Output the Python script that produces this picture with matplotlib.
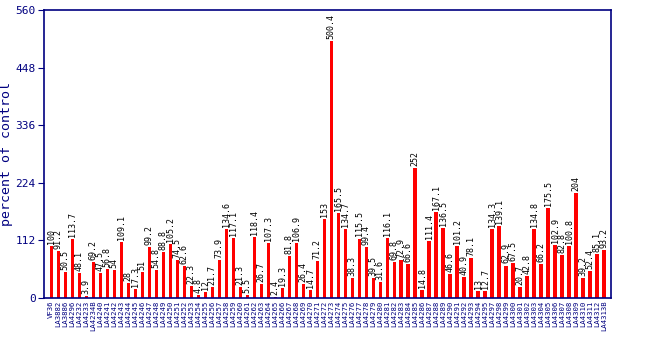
import matplotlib
matplotlib.use("Agg")
import matplotlib.pyplot as plt
import numpy as np

# values, left to right
values = [
    100, 91.2, 50.5, 113.7, 48.1, 3.9, 69.2, 47.5, 56.8, 54,
    109.1, 28, 17.3, 51, 99.2, 54.8, 88.8, 105.2, 74.5, 62.6,
    22.3, 4.8, 12, 21.7, 73.9, 134.6, 117.1, 21.3, 5.5, 118.4,
    26.7, 107.3, 2.4, 19.3, 81.8, 106.9, 26.4, 14.7, 71.2, 153,
    500.4, 165.5, 134.7, 38.3, 115.5, 99.4, 39.5, 31.6, 116.1, 69.8,
    72.9, 66.6, 252, 14.8, 111.4, 167.1, 136.5, 46.6, 101.2, 40.9,
    78.1, 13, 12.7, 134.3, 139.1, 62.9, 67.5, 20.7, 42.8, 134.8,
    66.2, 175.5, 102.9, 82.8, 100.8, 204, 39.2, 52.4, 85.1, 93.2,
]

# sample names (small rotated text, best guess)
labels = [
    "VF36", "LA3882", "LA3886", "LA4296", "LA4232", "LA4233", "LA4234B", "LA4240", "LA4241", "LA4242",
    "LA4243", "LA4244", "LA4245", "LA4246", "LA4247", "LA4248", "LA4249", "LA4250", "LA4251", "LA4252",
    "LA4253", "LA4254", "LA4255", "LA4256", "LA4257", "LA4258", "LA4259", "LA4260", "LA4261", "LA4262",
    "LA4263", "LA4264", "LA4265", "LA4266", "LA4267", "LA4268", "LA4269", "LA4270", "LA4271", "LA4272",
    "LA4273", "LA4274", "LA4275", "LA4276", "LA4277", "LA4278", "LA4279", "LA4280", "LA4281", "LA4282",
    "LA4283", "LA4284", "LA4285", "LA4286", "LA4287", "LA4288", "LA4289", "LA4290", "LA4291", "LA4292",
    "LA4293", "LA4294", "LA4295", "LA4297", "LA4298", "LA4299", "LA4300", "LA4301", "LA4302", "LA4303",
    "LA4304", "LA4305", "LA4306", "LA4307", "LA4308", "LA4309", "LA4310", "LA4311", "LA4312", "LA4313B",
]

yticks = [0, 112, 224, 336, 448, 560]
navy = "#000080"
mono = "DejaVu Sans Mono"

fig = plt.figure(figsize=(6.5, 3.5), dpi=100)
ax = fig.add_axes([0.068, 0.149, 0.872, 0.822])

x = np.arange(len(values))
ax.bar(x, values, width=0.45, color="#ff0000", zorder=2)

for xi, v in zip(x, values):
    ax.text(xi, v + 4, f"{v:g}", rotation=90, ha="center", va="bottom",
            fontsize=6, family=mono, color="black")

ax.set_xlim(-1, 80)
ax.set_ylim(0, 560)
ax.set_yticks(yticks)
ax.set_yticklabels([str(t) for t in yticks], family=mono, fontsize=8, color=navy)
ax.set_xticks(x)
ax.set_xticklabels(labels, rotation=90, family=mono, fontsize=5.2, color=navy)
ax.tick_params(axis="x", length=0, pad=2)
ax.tick_params(axis="y", color=navy, length=4, pad=2)
ax.set_ylabel("percent of control", family=mono, fontsize=9.5, color=navy, labelpad=2)

for sp in ax.spines.values():
    sp.set_color(navy)
    sp.set_linewidth(1.2)

fig.savefig("out.png", dpi=100)
